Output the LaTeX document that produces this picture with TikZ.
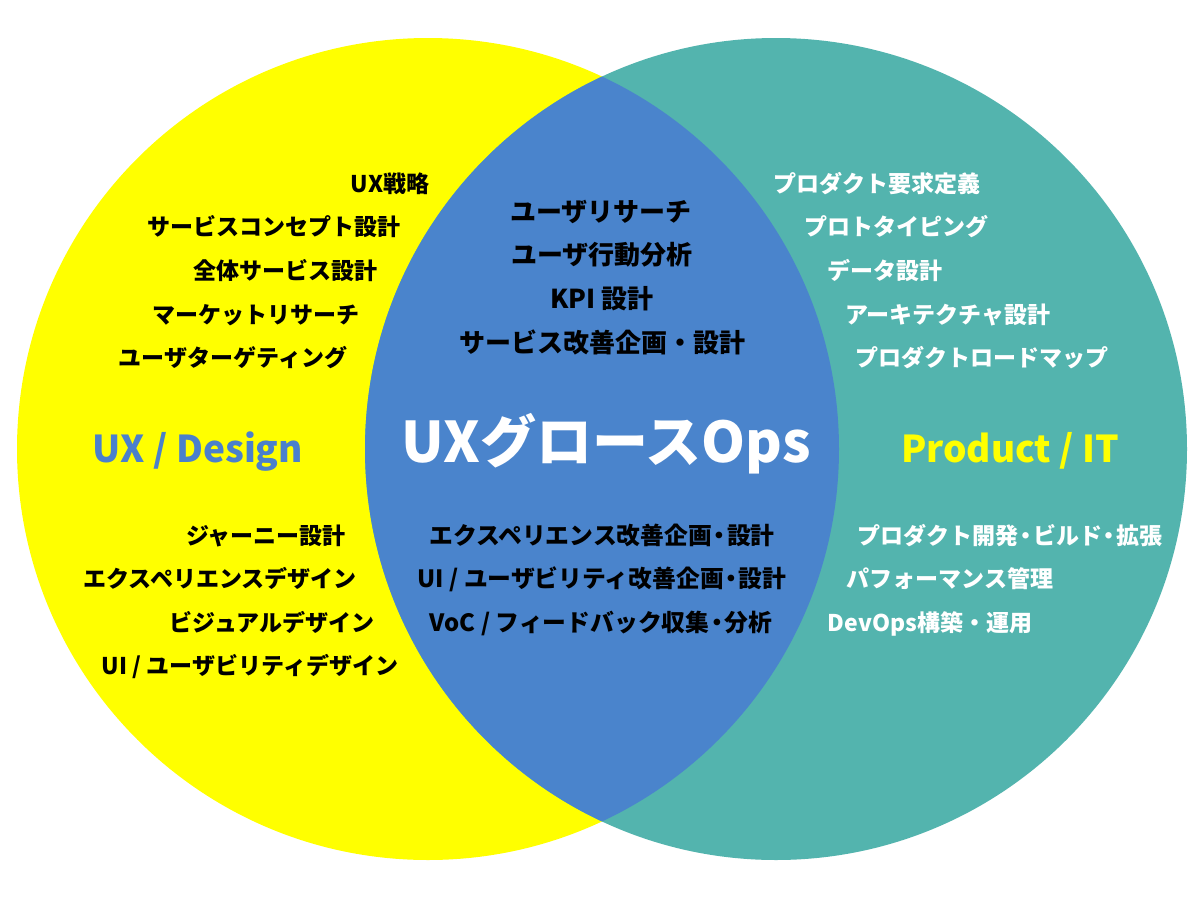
\documentclass[tikz,border=0pt]{standalone}
\usepackage{fontspec}
\setmainfont{Noto Sans CJK JP}
\definecolor{vyellow}{HTML}{FFFF00}
\definecolor{vteal}{HTML}{53B4AE}
\definecolor{vblue}{HTML}{4A84CC}
\definecolor{lblue}{HTML}{4A80CC}
\newcommand{\nd}{\kern-0.185em・\kern-0.185em}
\begin{document}
\begin{tikzpicture}[x=1pt,y=-1pt,
  item/.style={font=\fontsize{23}{27}\selectfont\bfseries, inner sep=0pt, anchor=base},
  itemw/.style={item, text=white},
  itemc/.style={item, font=\fontsize{26}{30}\selectfont\bfseries},
  itemb/.style={item, font=\fontsize{23.8}{28}\selectfont\bfseries},
  biglabel/.style={font=\fontsize{37}{44}\selectfont\bfseries, inner sep=0pt, anchor=base},
  title/.style={font=\fontsize{56}{64}\selectfont\bfseries, text=white, inner sep=0pt, anchor=base}]
\useasboundingbox (0,0) rectangle (1200,900);
\fill[white] (0,0) rectangle (1200,900);
% circles
\fill[vyellow] (428,449) circle[radius=411];
\fill[vteal] (776,449) circle[radius=411];
\begin{scope}
  \clip (428,449) circle[radius=411];
  \fill[vblue] (776,449) circle[radius=411];
\end{scope}
% left top
\node[item] (l1) at (390,192) {UX戦略};
\node[item] (l2) at (274,235) {サービスコンセプト設計};
\node[item] (l3) at (285,279) {全体サービス設計};
\node[item] (l4) at (256,323) {マーケットリサーチ};
\node[item] (l5) at (233,366) {ユーザターゲティング};
% middle top
\node[itemc] (m1) at (601,221) {ユーザリサーチ};
\node[itemc] (m2) at (602,264) {ユーザ行動分析};
\node[itemc] (m3) at (602,308) {KPI 設計};
\node[itemc] (m4) at (602,352) {サービス改善企画・設計};
% right top
\node[itemw] (r1) at (877,192) {プロダクト要求定義};
\node[itemw] (r2) at (896,235) {プロトタイピング};
\node[itemw] (r3) at (885,279) {データ設計};
\node[itemw] (r4) at (948,323) {アーキテクチャ設計};
\node[itemw] (r5) at (982,366) {プロダクトロードマップ};
% middle row
\node[biglabel, text=lblue] (ux) at (198,462) {UX / Design};
\node[title] (t) at (606,462) {UXグロースOps};
\node[biglabel, text=vyellow] (pit) at (1010,462) {Product / IT};
% left bottom
\node[item] (lb1) at (266,544) {ジャーニー設計};
\node[item] (lb2) at (220,587) {エクスペリエンスデザイン};
\node[item] (lb3) at (272,631) {ビジュアルデザイン};
\node[item] (lb4) at (250,674) {UI / ユーザビリティデザイン};
% middle bottom
\node[itemb] (mb1) at (602,544) {エクスペリエンス改善企画\nd 設計};
\node[itemb] (mb2) at (602,587) {UI / ユーザビリティ改善企画\nd 設計};
\node[itemb] (mb3) at (601,631) {VoC / フィードバック収集\nd 分析};
% right bottom
\node[itemw] (rb1) at (1010,544) {プロダクト開発\nd ビルド\nd 拡張};
\node[itemw] (rb2) at (950,587) {パフォーマンス管理};
\node[itemw] (rb3) at (930,631) {DevOps構築・運用};
\end{tikzpicture}
\end{document}
